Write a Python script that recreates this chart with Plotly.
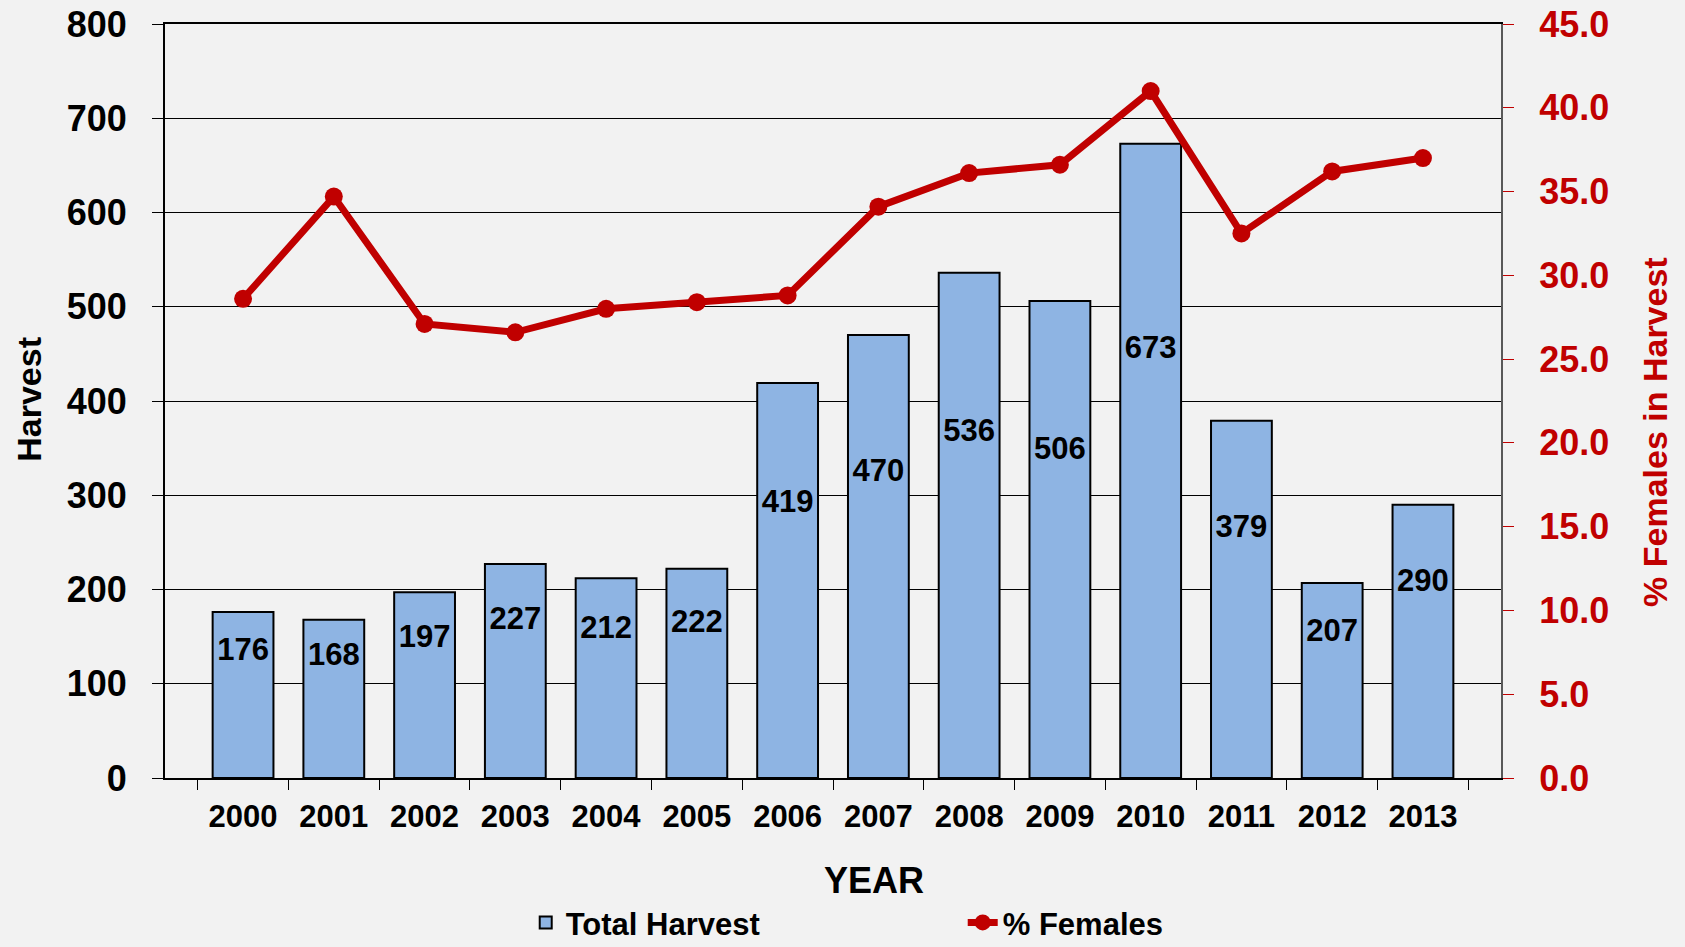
import plotly.graph_objects as go

years = ["2000", "2001", "2002", "2003", "2004", "2005", "2006",
         "2007", "2008", "2009", "2010", "2011", "2012", "2013"]
total_harvest = [176, 168, 197, 227, 212, 222, 419, 470, 536, 506, 673, 379, 207, 290]
pct_females = [28.6, 34.7, 27.1, 26.6, 28.0, 28.4, 28.8, 34.1, 36.1, 36.6, 41.0, 32.5, 36.2, 37.0]

FONT = "Liberation Sans, Arial, sans-serif"
RED = "#C00000"
BG = "#F2F2F2"
# label placement inside bars: a linear rule of the bar height
LABEL_SLOPE, LABEL_OFFSET = 0.645, 20

fig = go.Figure()

fig.add_trace(go.Bar(
    x=years, y=total_harvest, name="Total Harvest",
    marker=dict(color="#8EB4E3", line=dict(color="black", width=2)),
    yaxis="y",
))

fig.add_trace(go.Scatter(
    x=years, y=[v * LABEL_SLOPE + LABEL_OFFSET for v in total_harvest],
    text=[str(v) for v in total_harvest], mode="text",
    textfont=dict(family=FONT, size=31, color="black", weight="bold"),
    showlegend=False, hoverinfo="skip", cliponaxis=False, yaxis="y",
))

fig.add_trace(go.Scatter(
    x=years, y=pct_females, name="% Females", mode="lines+markers",
    line=dict(color=RED, width=7),
    marker=dict(color=RED, size=18),
    yaxis="y2",
))

fig.update_layout(
    width=1685, height=947, autosize=False,
    paper_bgcolor=BG, plot_bgcolor=BG,
    margin=dict(l=165, r=184, t=24, b=169, autoexpand=False),
    font=dict(family=FONT, color="black"),
    bargap=0.33,
    showlegend=True,
    legend=dict(orientation="h", x=0.27, xanchor="left", y=-0.192, yanchor="middle",
                font=dict(family=FONT, size=31, color="black", weight="bold"),
                entrywidth=392, bgcolor="rgba(0,0,0,0)", traceorder="normal"),
    xaxis=dict(
        type="category", showline=True, linecolor="black", linewidth=2, mirror=True,
        ticks="outside", ticklen=10, tickcolor="black", tickwidth=1,
        tickson="boundaries", showgrid=False,
        tickfont=dict(family=FONT, size=31, color="black", weight="bold"),
        ticklabelstandoff=10,
    ),
    yaxis=dict(
        range=[0, 800], dtick=100, showline=True, linecolor="black", linewidth=2,
        ticks="outside", ticklen=11, tickcolor="black",
        showgrid=True, gridcolor="black", gridwidth=1, zeroline=False,
        tickfont=dict(family=FONT, size=36, color="black", weight="bold"),
        ticklabelstandoff=18,
    ),
    yaxis2=dict(
        range=[0, 45], dtick=5, tickformat=".1f", overlaying="y", side="right",
        showline=True, linecolor="#595959", linewidth=2,
        ticks="outside", ticklen=11, tickcolor=RED,
        showgrid=False, zeroline=False,
        tickfont=dict(family=FONT, size=36, color=RED, weight="bold"),
        ticklabelstandoff=18,
    ),
    annotations=[
        dict(text="Harvest", xref="paper", yref="paper", x=-0.1018, y=0.503,
             xanchor="center", yanchor="middle", textangle=-90, showarrow=False,
             font=dict(family=FONT, size=34, color="black", weight="bold")),
        dict(text="% Females in Harvest", xref="paper", yref="paper", x=1.1153, y=0.459,
             xanchor="center", yanchor="middle", textangle=-90, showarrow=False,
             font=dict(family=FONT, size=34, color=RED, weight="bold")),
        dict(text="YEAR", xref="paper", yref="paper", x=0.5307, y=-0.1366,
             xanchor="center", yanchor="middle", showarrow=False,
             font=dict(family=FONT, size=36, color="black", weight="bold")),
    ],
)

fig.write_html(
    "out.html",
    config={"responsive": False, "displayModeBar": False},
    post_script="document.body.style.margin='0';document.body.style.overflow='hidden';"
                "document.documentElement.style.overflow='hidden';",
)
